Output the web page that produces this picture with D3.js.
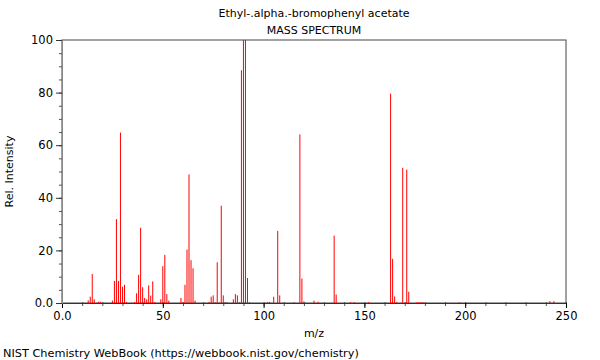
<!DOCTYPE html>
<html lang="en">
<head>
    <meta charset="UTF-8">
    <title>Ethyl-.alpha.-bromophenyl acetate - Mass Spectrum</title>
    <script src="https://d3js.org/d3.v7.min.js"></script>
    <style>
        body { margin: 0; background: #fff; }
        svg text { font-family: "DejaVu Sans", sans-serif; fill: #000; }
    </style>
</head>
<body>
    <svg width="600" height="360"></svg>

    <script>
        // peaks: m/z and relative intensity
        const mz = [13, 14, 15, 16, 18, 19, 25, 26, 27, 28, 29, 30, 31, 32,
                    36, 37, 38, 39, 40, 41, 42, 43, 44, 45, 46, 49, 50, 51, 52, 53,
                    59, 60, 61, 62, 63, 64, 65, 66, 73, 74, 75, 76, 77, 78, 79, 80, 81, 82,
                    85, 86, 87, 88, 89, 90, 91, 92, 93, 102, 103, 105, 107, 108,
                    115, 118, 119, 120, 125, 127, 135, 136, 143, 145, 152,
                    163, 164, 165, 166, 169, 171, 172, 176, 177, 178, 179, 197, 242, 244];
        const intensity = [1.0, 2.4, 11.0, 1.4, 0.5, 0.5, 0.9, 8.4, 31.9, 8.4, 64.8, 6.2, 6.9, 0.3,
                           0.4, 3.7, 10.7, 28.6, 6.0, 1.9, 1.4, 6.7, 2.8, 8.2, 0.4, 1.4, 14.0, 18.3, 3.4, 0.9,
                           1.9, 0.3, 6.9, 20.3, 48.9, 16.3, 13.2, 0.9, 0.4, 2.4, 2.9, 0.3, 15.5, 0.3, 37.0, 2.9, 0.3, 0.3,
                           1.4, 3.4, 2.9, 0.3, 88.5, 100, 100, 9.5, 0.3, 0.3, 0.4, 2.4, 27.4, 2.9,
                           0.3, 64.1, 9.3, 0.6, 0.9, 0.5, 25.6, 3.2, 0.3, 0.3, 0.3,
                           79.6, 16.8, 2.5, 0.3, 51.4, 50.7, 4.3, 0.3, 0.3, 0.3, 0.3, 0.3, 0.7, 0.7];

        const xTicks = [0, 50, 100, 150, 200, 250];
        const yTicks = [0, 20, 40, 60, 80, 100];

        const titleText = "Ethyl-.alpha.-bromophenyl acetate";
        const subtitleText = "MASS SPECTRUM";
        const footerText = "NIST Chemistry WebBook (https://webbook.nist.gov/chemistry)";

        const plotL = 62, plotR = 566, plotT = 40, plotB = 303;
        const svg = d3.select("svg");

        const x = d3.scaleLinear().domain([0, 250]).range([plotL, plotR]);
        const y = d3.scaleLinear().domain([0, 100]).range([plotB, plotT]);

        const fmt = d => d === 0 ? "0.0" : String(d);

        // frame
        svg.append("rect")
            .attr("x", plotL).attr("y", plotT)
            .attr("width", plotR - plotL).attr("height", plotB - plotT)
            .attr("fill", "none")
            .attr("stroke", "#444")
            .attr("stroke-width", 1);

        // peaks
        svg.append("g").selectAll("line")
            .data(mz.map((m, i) => [m, intensity[i]]))
            .enter().append("line")
            .attr("x1", d => x(d[0])).attr("x2", d => x(d[0]))
            .attr("y1", y(0)).attr("y2", d => y(d[1]))
            .attr("stroke", "#ff0000")
            .attr("stroke-width", 1);

        // x axis
        svg.append("g").attr("transform", `translate(0,${plotB})`)
            .call(d3.axisBottom(x).tickValues(d3.range(0, 251, 10)).tickSize(3).tickFormat(""))
            .call(g => g.select(".domain").remove())
            .call(g => g.selectAll("line").attr("stroke", "#555").attr("y1", -1));
        svg.append("g").attr("transform", `translate(0,${plotB})`)
            .call(d3.axisBottom(x).tickValues(xTicks).tickSize(5).tickFormat(fmt).tickPadding(4))
            .call(g => g.select(".domain").attr("stroke", "#333"))
            .call(g => g.selectAll("line").attr("stroke", "#000"))
            .call(g => g.selectAll("text").attr("font-size", 11.5).style("font-family", "DejaVu Sans"));

        // y axis
        svg.append("g").attr("transform", `translate(${plotL},0)`)
            .call(d3.axisLeft(y).tickValues(d3.range(0, 101, 5)).tickSize(3).tickFormat(""))
            .call(g => g.select(".domain").remove())
            .call(g => g.selectAll("line").attr("stroke", "#555").attr("x1", 1));
        svg.append("g").attr("transform", `translate(${plotL},0)`)
            .call(d3.axisLeft(y).tickValues(yTicks).tickSize(6).tickFormat(fmt).tickPadding(3))
            .call(g => g.select(".domain").attr("stroke", "#888"))
            .call(g => g.selectAll("line").attr("stroke", "#333"))
            .call(g => g.selectAll("text").attr("font-size", 11.5).style("font-family", "DejaVu Sans"));

        // titles
        svg.append("text").attr("x", 314).attr("y", 17)
            .attr("text-anchor", "middle").attr("font-size", 11).text(titleText);
        svg.append("text").attr("x", 314).attr("y", 34)
            .attr("text-anchor", "middle").attr("font-size", 11).text(subtitleText);
        svg.append("text").attr("x", 314).attr("y", 337)
            .attr("text-anchor", "middle").attr("font-size", 11).text("m/z");
        svg.append("text")
            .attr("transform", `translate(13,${(plotT + plotB) / 2}) rotate(-90)`)
            .attr("text-anchor", "middle").attr("font-size", 11).text("Rel. Intensity");
        svg.append("text").attr("x", 3).attr("y", 357)
            .attr("font-size", 11.3).text(footerText);
    </script>
</body>
</html>
